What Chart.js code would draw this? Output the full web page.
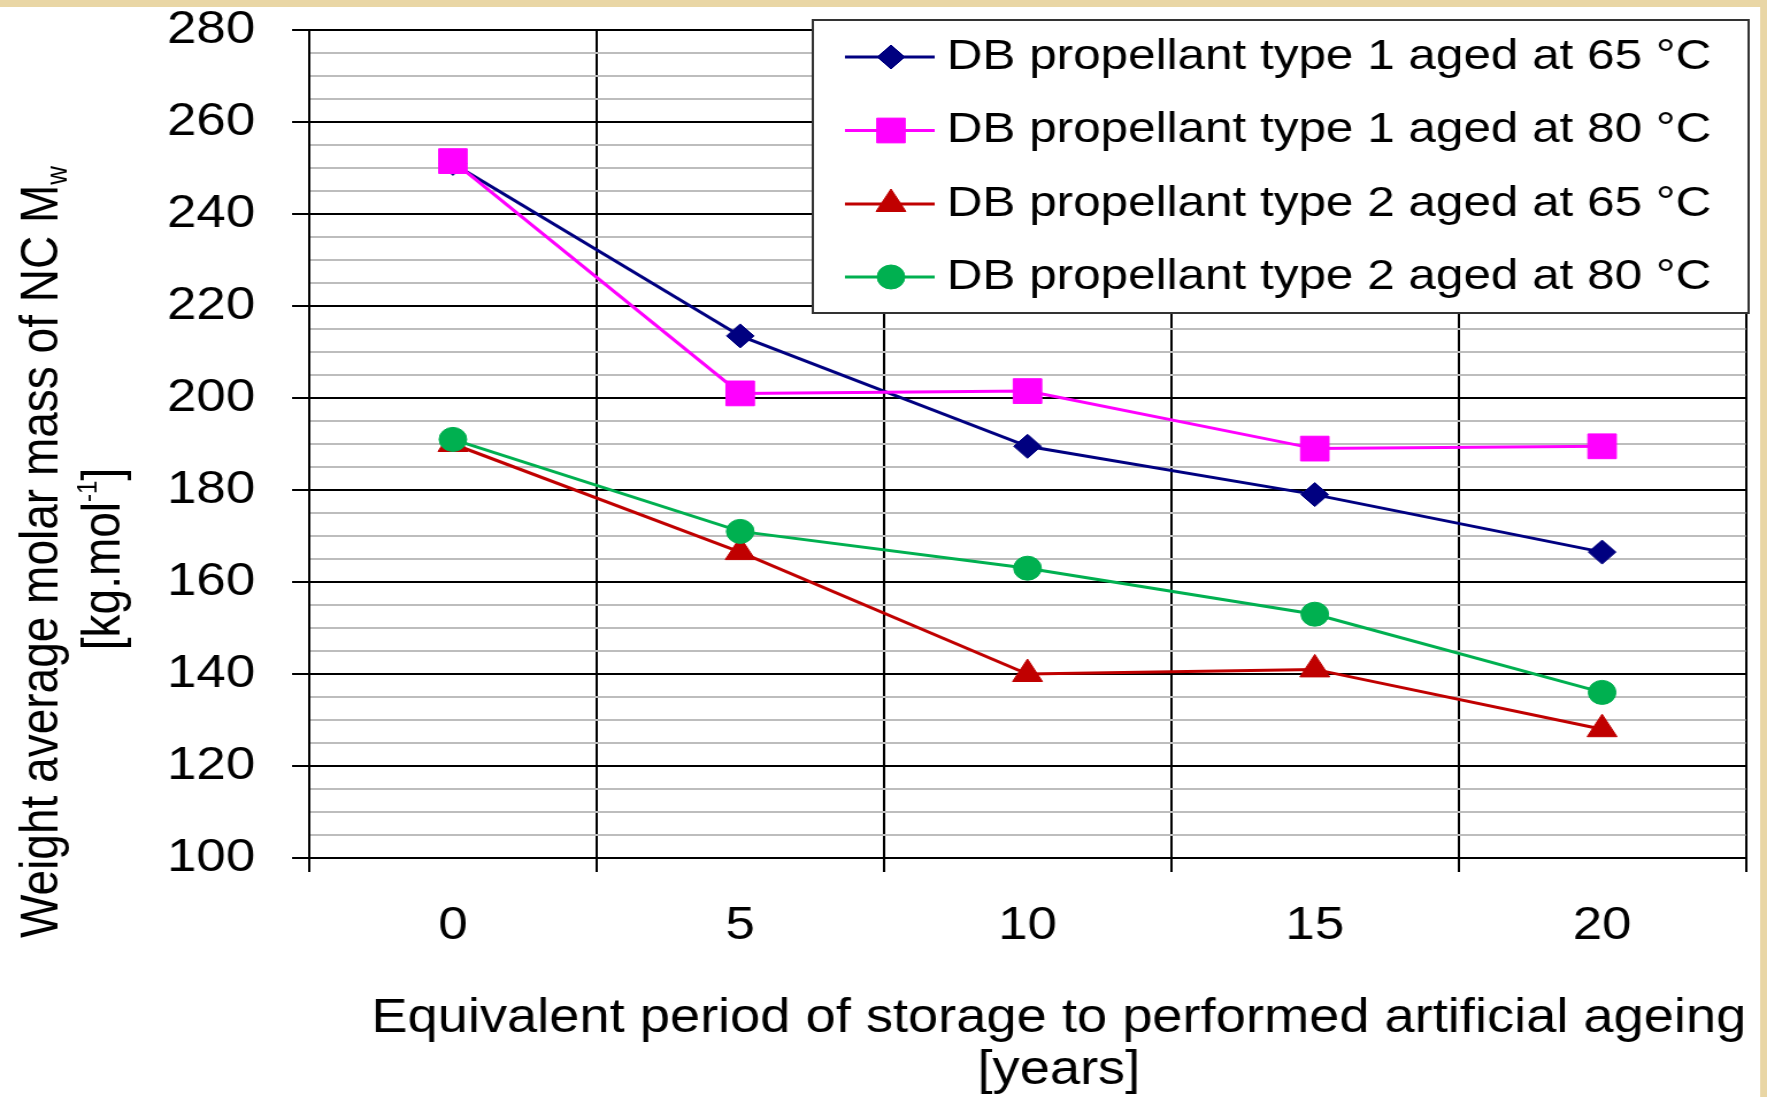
<!DOCTYPE html>
<html>
<head>
<meta charset="utf-8">
<script src="https://cdn.jsdelivr.net/npm/chart.js@4.4.1/dist/chart.umd.min.js"></script>
<style>
  html, body { margin: 0; padding: 0; background: #fff; overflow: hidden; width: 1767px; height: 1097px; }
  #c { display: block; transform: scaleX(1.14964); transform-origin: 0 0; }
</style>
</head>
<body>
<canvas id="c" width="1537" height="1097"></canvas>
<script>
// ---- data ----
const years = ['0', '5', '10', '15', '20'];
const seriesLabels = [
  'DB propellant type 1 aged at 65 °C',
  'DB propellant type 1 aged at 80 °C',
  'DB propellant type 2 aged at 65 °C',
  'DB propellant type 2 aged at 80 °C'
];
const type1At65 = [251, 213.5, 189.5, 179, 166.5];
const type1At80 = [251.5, 201, 201.5, 189, 189.5];
const type2At65 = [190, 166.5, 140, 141, 128];
const type2At80 = [191, 171, 163, 153, 136];
const yMin = 100, yMax = 280, yMajorStep = 20, yMinorStep = 5;
const xTitleLines = ['Equivalent period of storage to performed artificial ageing', '[years]'];

// ---- styles ----
const FONT = '"Liberation Sans", Arial, Helvetica, sans-serif';
const colors = ['#000080', '#ff00ff', '#c00000', '#00b050'];
const styles = ['rectRot', 'rect', 'triangle', 'circle'];
const radii = [12, 17.5, 15, 12];
const orders = [4, 3, 2, 1];
const seriesValues = [type1At65, type1At80, type2At65, type2At80];

function fontStr(size) { return size + 'px ' + FONT; }

function drawRuns(ctx, runs) {
  let total = 0;
  runs.forEach(r => { ctx.font = fontStr(r.size); r.w = ctx.measureText(r.text).width; total += r.w; });
  let x = -total / 2;
  runs.forEach(r => { ctx.font = fontStr(r.size); ctx.fillText(r.text, x, r.dy || 0); x += r.w; });
}

const decor = {
  id: 'decor',
  beforeDraw(chart) {
    const ctx = chart.ctx, W = chart.width, H = chart.height;
    ctx.save();
    ctx.fillStyle = '#ffffff';
    ctx.fillRect(0, 0, W, H);
    ctx.fillStyle = '#e9d6a5';
    ctx.fillRect(0, 0, W, 7);
    ctx.fillRect(W - 6, 0, 6, H);
    ctx.restore();
  },
  afterDraw(chart) {
    const ctx = chart.ctx;
    ctx.save();
    // legend box
    const lx = 707, ly = 20, lw = 814, lh = 293;
    ctx.fillStyle = '#ffffff';
    ctx.fillRect(lx, ly, lw, lh);
    ctx.strokeStyle = '#333333';
    ctx.lineWidth = 2;
    ctx.strokeRect(lx, ly, lw, lh);
    const rowY = [57, 130.5, 204, 277];
    chart.data.datasets.forEach((ds, i) => {
      const cy = rowY[i];
      ctx.strokeStyle = ds.borderColor;
      ctx.lineWidth = 3;
      ctx.beginPath();
      ctx.moveTo(735, cy);
      ctx.lineTo(813, cy);
      ctx.stroke();
      ctx.fillStyle = ds.backgroundColor;
      ctx.strokeStyle = ds.borderColor;
      ctx.lineWidth = 1;
      Chart.helpers.drawPoint(ctx, { pointStyle: ds.pointStyle, radius: ds.pointRadius, rotation: 0, borderWidth: 1 }, 775, cy);
      ctx.fillStyle = '#000';
      ctx.font = fontStr(43);
      ctx.textAlign = 'left';
      ctx.textBaseline = 'middle';
      ctx.fillText(ds.label, 823.5, cy);
    });

    // axis titles
    ctx.fillStyle = '#000';
    ctx.textAlign = 'left';
    ctx.textBaseline = 'alphabetic';
    ctx.save();
    ctx.translate(49.6, 552);
    ctx.rotate(-Math.PI / 2);
    drawRuns(ctx, [{ text: 'Weight average molar mass of NC M', size: 46 }, { text: 'w', size: 26, dy: 8 }]);
    ctx.restore();
    ctx.save();
    ctx.translate(104, 559);
    ctx.rotate(-Math.PI / 2);
    drawRuns(ctx, [{ text: '[kg.mol', size: 46 }, { text: '-1', size: 24, dy: -20 }, { text: ']', size: 46 }]);
    ctx.restore();
    ctx.save();
    ctx.translate(921, 1032);
    drawRuns(ctx, [{ text: xTitleLines[0], size: 47.2 }]);
    ctx.restore();
    ctx.save();
    ctx.translate(921, 1084);
    drawRuns(ctx, [{ text: xTitleLines[1], size: 47.2 }]);
    ctx.restore();
    ctx.restore();
  }
};

Chart.defaults.font.family = FONT;

const datasets = seriesLabels.map((label, i) => ({
  label: label,
  data: seriesValues[i],
  borderColor: colors[i],
  backgroundColor: colors[i],
  pointBackgroundColor: colors[i],
  pointBorderColor: colors[i],
  pointStyle: styles[i],
  pointRadius: radii[i],
  pointBorderWidth: 1,
  borderWidth: 3,
  tension: 0,
  order: orders[i],
  clip: false
}));

new Chart(document.getElementById('c').getContext('2d'), {
  type: 'line',
  data: { labels: years, datasets: datasets },
  options: {
    responsive: false,
    devicePixelRatio: 1,
    animation: false,
    layout: { padding: { top: 30, right: 13, left: 0, bottom: 0 } },
    plugins: { legend: { display: false }, tooltip: { enabled: false }, title: { display: false } },
    scales: {
      x: {
        type: 'category',
        offset: true,
        grid: { offset: true, color: '#000', lineWidth: 2, tickLength: 14, tickColor: '#000', tickWidth: 2 },
        border: { color: '#000', width: 2 },
        ticks: { font: { size: 46 }, color: '#000', padding: 27, maxRotation: 0, autoSkip: false },
        title: { display: false },
        afterFit(s) { s.height = 239; s.paddingLeft = 0; s.paddingRight = 0; }
      },
      y: {
        min: yMin,
        max: yMax,
        ticks: {
          stepSize: yMinorStep,
          autoSkip: false,
          font: { size: 46 },
          color: '#000',
          padding: 32,
          callback: v => (v % yMajorStep === 0 ? String(v) : '')
        },
        grid: {
          color: c => (c.tick && c.tick.value % yMajorStep === 0 ? '#000' : '#bdbdbd'),
          lineWidth: 2,
          tickLength: 15,
          tickWidth: 2,
          tickColor: c => (c.tick && c.tick.value % yMajorStep === 0 ? '#000' : 'rgba(0,0,0,0)')
        },
        border: { color: '#000', width: 2 },
        title: { display: false },
        afterFit(s) { s.width = 269; s.paddingTop = 0; s.paddingBottom = 0; }
      }
    }
  },
  plugins: [decor]
});
</script>
</body>
</html>
